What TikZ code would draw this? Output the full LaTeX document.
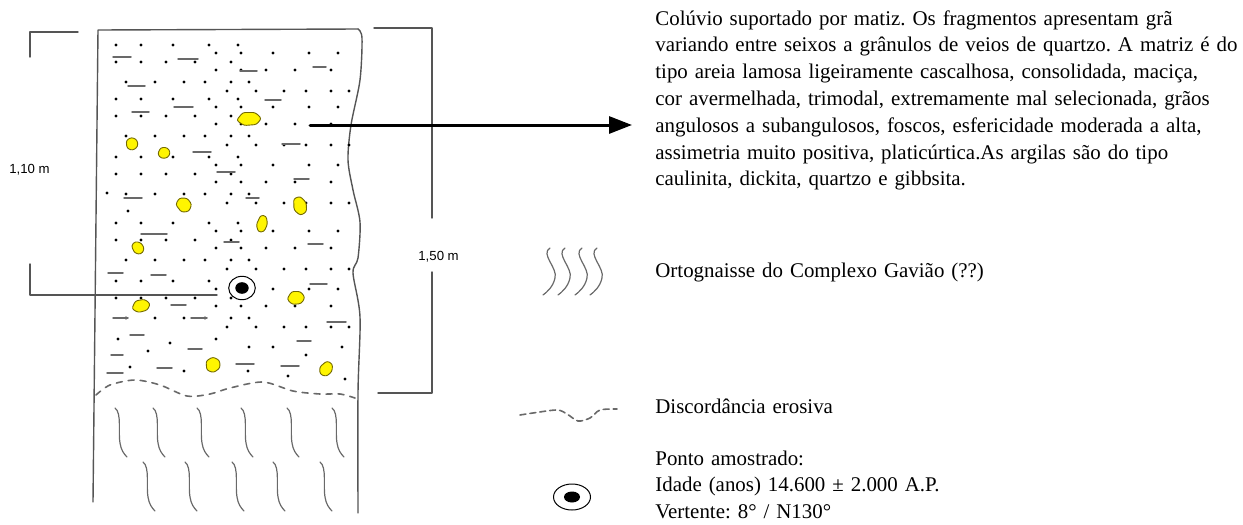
\documentclass[tikz,border=0pt]{standalone}
\usepackage{fontspec}
\setmainfont{Liberation Serif}
\setsansfont{Liberation Sans}
\usetikzlibrary{arrows.meta}
\definecolor{edgegray}{RGB}{85,85,85}
\definecolor{dashgray}{RGB}{105,105,105}
\definecolor{grainfill}{RGB}{255,245,0}
\definecolor{grainedge}{RGB}{115,105,0}
\tikzset{
  outline/.style={edgegray,line width=0.7pt},
  grain/.style={fill=grainfill,draw=grainedge,line width=0.45pt,rounded corners=1.2pt},
  clast/.style={dashgray,line width=0.75pt},
  gneiss/.style={dashgray,line width=0.6pt},
  legendtext/.style={font=\fontsize{10.45}{13.4}\selectfont\frenchspacing,inner sep=0pt,anchor=base west,align=left,text width=300pt},
  scaletext/.style={font=\sffamily\fontsize{6.6}{8}\selectfont,inner sep=0pt,anchor=base west}
}
\begin{document}
\begin{tikzpicture}[x=0.5pt,y=-0.5pt,line cap=round,line join=round]
    \useasboundingbox (0,0) rectangle (1243,525);
    \draw[outline] (93,502) -- (98,30) -- (358,29);
    \draw[outline] plot[smooth] coordinates {(358,29) (362,38) (360,80) (351,125) (348,160) (353,190) (360,222) (358,258) (353,273) (360,317) (358,393) (358,513)};
    \draw[outline] (78,32) -- (30,32) -- (30,57);
    \draw[outline] (30,264) -- (30,295) -- (217,295);
    \draw[outline] (374,28) -- (432,28) -- (432,218);
    \draw[outline] (432,272) -- (432,393) -- (378,393);
    \node[scaletext] (lowlbl) at (9,173) {1,10 m};
    \node[scaletext] (uplbl) at (418,260) {1,50 m};
    \foreach \by in {45,99,157,223,281} {
        \foreach \dx in {116,141,173,209,238} \fill (\dx,\by) circle (1.6);
        \foreach \dx in {216,241,273,309,338} \fill (\dx,\by+8) circle (1.6);
        \foreach \dx in {116,141,166,195,231} \fill (\dx,\by+17) circle (1.6);
        \foreach \dx in {216,241,266,295,331} \fill (\dx,\by+25) circle (1.6);
        \foreach \dx in {126,155,184,205,231,249} \fill (\dx,\by+37) circle (1.6);
        \foreach \dx in {227,256,284,306,331,349} \fill (\dx,\by+46) circle (1.6);
    }
    \foreach \dx/\dy in {107/193,128/211,118/339,216/339,170/343,249/347,273/347,342/347,148/351,306/355,130/367,184/371,248/371,288/376,345/379}
        \fill (\dx,\dy) circle (1.6);
    \foreach \a/\b/\y in {113/131/57,178/198/59,240/257/71,313/326/67,128/145/86,265/281/100,132/149/112,174/193/107,193/211/152,282/300/144,217/235/172,294/309/179,124/142/198,246/259/198,141/167/234,224/239/242,308/323/244,108/123/273,151/166/275,310/327/284,171/186/305,113/128/318,191/207/318,327/346/322,130/144/335,188/202/349,297/311/341,111/123/355,157/172/368,236/254/364,281/299/366,107/123/373}
        \draw[clast] (\a,\y) -- (\b,\y);
    \foreach \gx/\gy/\gw/\gh/\gr in {249/119/12.5/6.5/0,132/144/6.5/6/30,164/153/6.5/5.5/0,184/205/7.5/7.5/60,300/206/7/9/20,262/224/5.5/8.5/-10,138/248/6/6.5/45,141/306/9.5/6/10,296/298/9/6.5/0,213/365/8/7/30,326/369/6.5/7.5/-30}
        \filldraw[grain,shift={(\gx,\gy)},rotate=\gr] (-\gw,0.2*\gh) -- (-0.5*\gw,-\gh) -- (0.5*\gw,-\gh) -- (\gw,-0.1*\gh) -- (0.6*\gw,0.85*\gh) -- (-0.4*\gw,\gh) -- cycle;
    \filldraw[draw=black,fill=white,line width=0.5pt] (242,288) ellipse [x radius=13.3,y radius=11.7];
    \fill (242,288) ellipse [x radius=6.7,y radius=5.8];
    \draw[dashgray,line width=0.8pt,dashed] plot[smooth] coordinates {(96,395) (110,385) (135,380) (160,385) (187,396) (210,394) (230,388) (263,382) (293,391) (320,394) (340,394) (355,398)};
    \foreach \x in {115,153,197,241,287,332}
        \draw[gneiss] (\x,408) .. controls (\x+7,413) and (\x+3,433) .. (\x+5,443) .. controls (\x+6,450) and (\x+9,454) .. (\x+12,457);
    \foreach \x in {143,185,232,273,320}
        \draw[gneiss] (\x,462) .. controls (\x+7,467) and (\x+3,487) .. (\x+5,497) .. controls (\x+6,504) and (\x+9,508) .. (\x+12,511);
    \coordinate (arrowstart) at (310,125);
    \coordinate (arrowend) at (632,125);
    \draw[line width=1.5pt,-{Triangle[length=11.5pt,width=8.5pt]}] (arrowstart) -- (arrowend);
    \node[legendtext] (desc) at (655,25) {Colúvio suportado por matiz. Os fragmentos apresentam grã\\
        variando entre seixos a grânulos de veios de quartzo. A matriz é do\\
        tipo areia lamosa ligeiramente cascalhosa, consolidada, maciça,\\
        cor avermelhada, trimodal, extremamente mal selecionada, grãos\\
        angulosos a subangulosos, foscos, esfericidade moderada a alta,\\
        assimetria muito positiva, platicúrtica.As argilas são do tipo\\
        caulinita, dickita, quartzo e gibbsita.};
    \foreach \x in {550,565,582,597}
        \draw[gneiss] (\x,248) .. controls (\x-10,254) and (\x+8,268) .. (\x+5,278) .. controls (\x+3,287) and (\x-3,292) .. (\x-7,295);
    \node[legendtext] (gneisstxt) at (655,277) {Ortognaisse do Complexo Gavião (??)};
    \draw[dashgray,line width=0.8pt,densely dashed] plot[smooth] coordinates {(520,415) (533,413) (557,410) (567,414) (578,421) (590,418) (600,410) (617,409)};
    \node[legendtext] (discotxt) at (655,413) {Discordância erosiva};
    \draw[line width=0.5pt] (572,497) ellipse [x radius=18.5,y radius=13];
    \fill (572,497) ellipse [x radius=8,y radius=5.5];
    \node[legendtext] (pointtxt) at (655,465) {Ponto amostrado:\\
        Idade (anos) 14.600 ± 2.000 A.P.\\
        Vertente: 8° / N130°};
\end{tikzpicture}
\end{document}
